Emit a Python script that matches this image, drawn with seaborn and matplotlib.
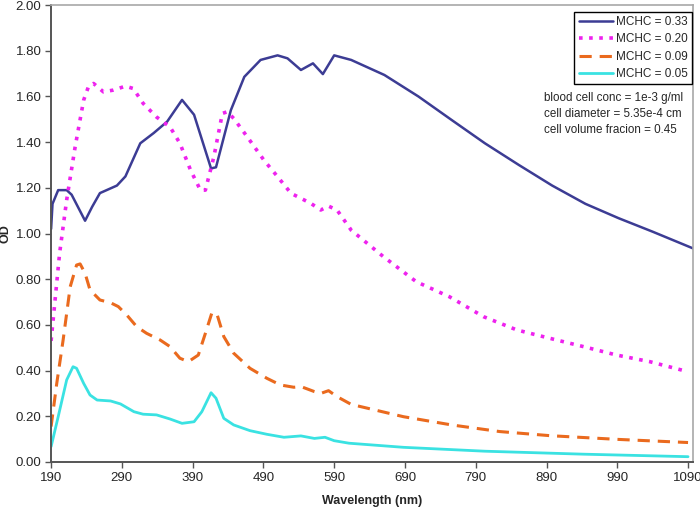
import matplotlib
matplotlib.use("Agg")
import matplotlib.pyplot as plt
import pandas as pd
import seaborn as sns

# values (wavelength nm, OD)
wl_033 = [190, 192, 200, 212, 219, 238, 248, 259, 283, 295, 316, 335, 354, 375, 392, 416, 423,
          444, 463, 486, 510, 524, 543, 560, 574, 590, 614, 661, 709, 756, 803, 851, 898, 945,
          992, 1040, 1097]
od_033 = [1.02, 1.13, 1.19, 1.19, 1.17, 1.056, 1.117, 1.177, 1.21, 1.25, 1.395, 1.44, 1.49, 1.585,
          1.52, 1.285, 1.29, 1.54, 1.686, 1.76, 1.78, 1.767, 1.716, 1.745, 1.698, 1.78, 1.76, 1.694,
          1.60, 1.497, 1.395, 1.30, 1.21, 1.13, 1.067, 1.008, 0.935]

wl_020 = [190, 202, 212, 224, 236, 243, 250, 264, 278, 295, 306, 320, 339, 358, 372, 387, 401,
          408, 420, 432, 439, 448, 467, 491, 510, 529, 543, 557, 571, 582, 594, 614, 659, 706,
          753, 801, 848, 895, 942, 989, 1036, 1090]
od_020 = [0.53, 0.913, 1.147, 1.38, 1.584, 1.645, 1.657, 1.62, 1.628, 1.645, 1.635, 1.57, 1.51,
          1.467, 1.395, 1.278, 1.19, 1.19, 1.336, 1.526, 1.533, 1.504, 1.424, 1.32, 1.249, 1.176,
          1.154, 1.132, 1.103, 1.12, 1.103, 1.015, 0.90, 0.789, 0.723, 0.636, 0.578, 0.541, 0.505,
          0.468, 0.439, 0.395]

wl_009 = [190, 198, 207, 217, 226, 231, 238, 245, 259, 274, 285, 297, 311, 325, 344, 358, 372,
          384, 398, 408, 417, 424, 434, 448, 471, 495, 514, 533, 543, 562, 571, 582, 594, 614,
          688, 756, 824, 895, 989, 1090]
od_009 = [0.155, 0.344, 0.534, 0.767, 0.862, 0.867, 0.826, 0.753, 0.709, 0.697, 0.68, 0.643,
          0.592, 0.563, 0.534, 0.505, 0.454, 0.439, 0.468, 0.563, 0.651, 0.651, 0.549, 0.476,
          0.41, 0.366, 0.337, 0.327, 0.33, 0.308, 0.30, 0.312, 0.286, 0.252, 0.198, 0.162, 0.133,
          0.115, 0.099, 0.085]

wl_005 = [190, 200, 212, 221, 226, 236, 245, 255, 274, 288, 307, 320, 339, 358, 375, 392, 403,
          416, 423, 434, 448, 471, 495, 519, 543, 562, 577, 590, 611, 688, 803, 942, 1090]
od_005 = [0.067, 0.198, 0.359, 0.417, 0.41, 0.344, 0.293, 0.271, 0.267, 0.254, 0.22, 0.209,
          0.206, 0.188, 0.169, 0.176, 0.22, 0.303, 0.279, 0.191, 0.162, 0.137, 0.121, 0.108,
          0.114, 0.103, 0.108, 0.093, 0.082, 0.064, 0.047, 0.034, 0.023]

labels = ["MCHC = 0.33", "MCHC = 0.20", "MCHC = 0.09", "MCHC = 0.05"]
x_ticks = [190, 290, 390, 490, 590, 690, 790, 890, 990, 1090]
y_ticks = [0.0, 0.2, 0.4, 0.6, 0.8, 1.0, 1.2, 1.4, 1.6, 1.8, 2.0]
notes = ["blood cell conc = 1e-3 g/ml", "cell diameter = 5.35e-4 cm", "cell volume fracion = 0.45"]

series = [
    (wl_033, od_033, labels[0], "#3c3c94", "-", 1.8),
    (wl_020, od_020, labels[1], "#ee22ee", (0, (1, 1.8)), 2.6),
    (wl_009, od_009, labels[2], "#ea6a1e", (0, (4, 2.6)), 2.2),
    (wl_005, od_005, labels[3], "#3ae2e2", "-", 2.0),
]

sns.set_theme(style="white")
plt.rcParams["font.family"] = ["Liberation Sans", "DejaVu Sans"]

fig = plt.figure(figsize=(7, 5.11), dpi=100)
ax = fig.add_axes([0.073, 0.096, 0.917, 0.894])

for wl, od, lab, col, ls, lw in series:
    df = pd.DataFrame({"wl": wl, "od": od})
    sns.lineplot(data=df, x="wl", y="od", ax=ax, color=col, linestyle=ls, linewidth=lw,
                 label=lab, sort=False)

ax.set_xlim(190, 1097)
ax.set_ylim(0, 2.0)
ax.set_xticks(x_ticks)
ax.set_yticks(y_ticks)
ax.set_yticklabels([f"{v:.2f}" for v in y_ticks])
ax.tick_params(axis="both", labelsize=9.5, direction="out", length=4, width=1,
               color="#555555", left=True, bottom=True, pad=3)
ax.set_xlabel("Wavelength (nm)", fontsize=9, fontweight="bold", labelpad=8)
ax.set_ylabel("OD", fontsize=9, fontweight="bold", labelpad=3)

for side in ["left", "bottom"]:
    ax.spines[side].set_color("#555555")
    ax.spines[side].set_linewidth(1.4)
for side in ["top", "right"]:
    ax.spines[side].set_color("#a8a8a8")
    ax.spines[side].set_linewidth(1.2)

leg = ax.legend(loc="upper right", bbox_to_anchor=(0.999, 0.985), fontsize=8.5,
                frameon=True, fancybox=False, framealpha=1, edgecolor="black",
                borderpad=0.35, labelspacing=0.45, handlelength=2.9, handletextpad=0.3,
                borderaxespad=0.0)
leg.get_frame().set_linewidth(1.0)

ax.text(0.768, 0.81, "\n".join(notes), transform=ax.transAxes, fontsize=8.4,
        ha="left", va="top", linespacing=1.45)

fig.savefig("out.png", dpi=100)
